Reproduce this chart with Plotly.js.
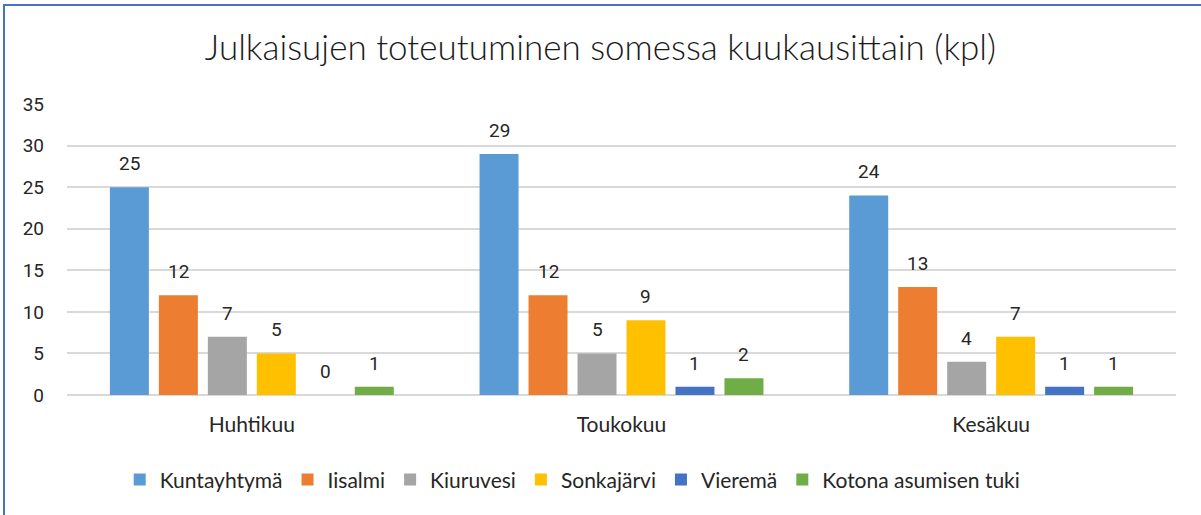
<!DOCTYPE html>
<html>
<head>
<meta charset="utf-8">
<script src="https://cdn.plot.ly/plotly-3.0.1.min.js"></script>
<style>
  html, body { margin: 0; padding: 0; background: #fff; overflow: hidden; }
  #wrap { position: relative; width: 1201px; height: 515px; overflow: hidden; }
  #chart { width: 1201px; height: 515px; }
  #frame { position: absolute; left: 3px; top: 4px; width: 1196px; height: 509px;
           border-left: 2px solid #4472C4; border-top: 2px solid #4472C4; pointer-events: none; }
</style>
</head>
<body>
<div id="wrap">
  <div id="chart"></div>
  <div id="frame"></div>
</div>
<script>
const months = ["Huhtikuu", "Toukokuu", "Kesäkuu"];
const seriesNames = ["Kuntayhtymä", "Iisalmi", "Kiuruvesi", "Sonkajärvi", "Vieremä", "Kotona asumisen tuki"];
const kuntayhtyma = [25, 29, 24];
const iisalmi = [12, 12, 13];
const kiuruvesi = [7, 5, 4];
const sonkajarvi = [5, 9, 7];
const vierema = [0, 1, 1];
const kotona = [1, 2, 1];
const colors = ["#5B9BD5", "#ED7D31", "#A5A5A5", "#FFC000", "#4472C4", "#70AD47"];
const yTicks = [0, 5, 10, 15, 20, 25, 30, 35];

const BARGAP = 0.205;
const allValues = [kuntayhtyma, iisalmi, kiuruvesi, sonkajarvi, vierema, kotona];
const data = allValues.map((vals, i) => ({
  type: "bar",
  name: seriesNames[i],
  x: months,
  y: vals,
  marker: { color: colors[i] },
  hoverinfo: "x+y+name"
}));

// value labels above each bar, positioned from the group geometry
const nSeries = allValues.length;
const slot = (1 - BARGAP) / nSeries;
const annotations = [];
allValues.forEach((vals, i) => {
  vals.forEach((v, j) => {
    annotations.push({
      x: j + (i - (nSeries - 1) / 2) * slot,
      y: v,
      xref: "x", yref: "y",
      text: String(v),
      showarrow: false,
      yanchor: "bottom",
      yshift: 10,
      font: { family: "Roboto, sans-serif", size: 19, color: "#262626" }
    });
  });
});

const layout = {
  width: 1201,
  height: 515,
  paper_bgcolor: "#ffffff",
  plot_bgcolor: "#ffffff",
  margin: { l: 67, r: 25, t: 104, b: 120, autoexpand: false },
  title: {
    text: "Julkaisujen toteutuminen somessa kuukausittain (kpl)",
    font: { family: "Lato, 'Open Sans', sans-serif", size: 35, weight: 300, color: "#1a1a1a" },
    x: 0.5, xanchor: "center",
    y: 0.907, yanchor: "middle", yref: "container"
  },
  barmode: "group",
  bargap: BARGAP,
  bargroupgap: 0.204,
  xaxis: {
    type: "category",
    tickfont: { family: "Lato, 'Open Sans', sans-serif", size: 21, color: "#262626" },
    showgrid: false,
    showline: false,
    ticks: "",
    ticklabelstandoff: 15,
    zeroline: false,
    fixedrange: true
  },
  yaxis: {
    range: [0, 35],
    tickvals: yTicks,
    ticktext: yTicks.map(String),
    tickfont: { family: "Roboto, sans-serif", size: 19, color: "#262626" },
    showgrid: true,
    gridcolor: "#D9D9D9",
    gridwidth: 1.5,
    zeroline: true,
    zerolinecolor: "#D9D9D9",
    zerolinewidth: 1.5,
    showline: false,
    ticks: "",
    ticklabelstandoff: 22,
    fixedrange: true
  },
  annotations: annotations,
  showlegend: true,
  legend: {
    orientation: "h",
    x: 0.456, xanchor: "center",
    y: -0.292, yanchor: "middle",
    font: { family: "Lato, 'Open Sans', sans-serif", size: 21, color: "#262626" },
    itemwidth: 30,
    traceorder: "normal"
  }
};

Plotly.newPlot("chart", data, layout, { displayModeBar: false });
</script>
</body>
</html>
